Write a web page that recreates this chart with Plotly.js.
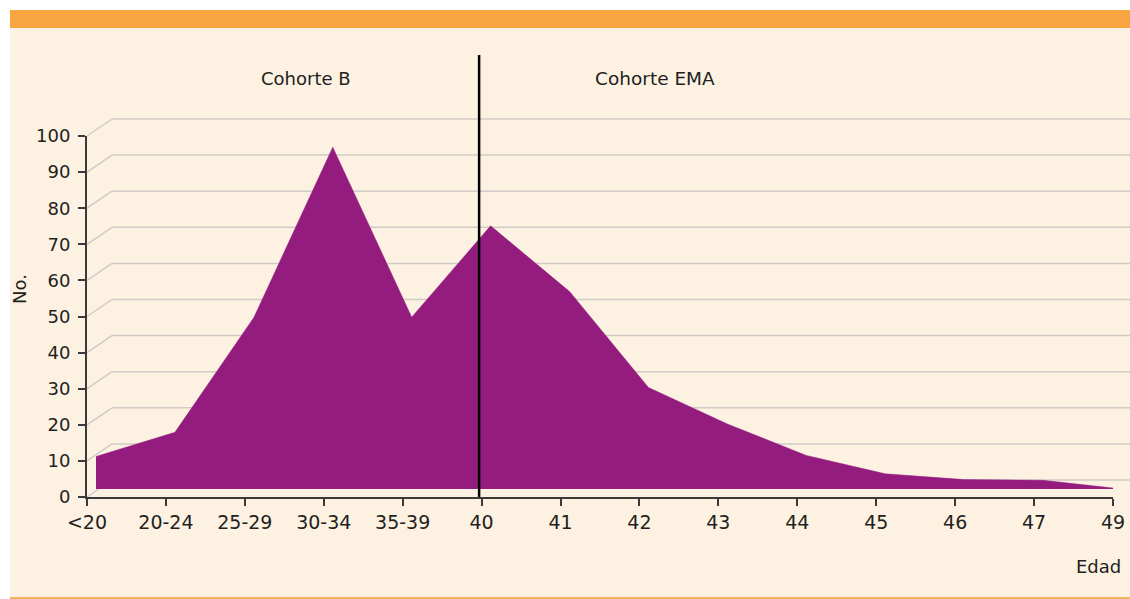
<!DOCTYPE html>
<html>
<head>
<meta charset="utf-8">
<script src="https://cdn.plot.ly/plotly-3.0.1.min.js"></script>
<style>
  html, body { margin: 0; padding: 0; background: #ffffff; }
  #wrap { position: relative; width: 1130px; height: 599px; overflow: hidden; background: #ffffff; }
  #band { position: absolute; left: 10px; top: 10px; width: 1120px; height: 18px; background: #f6a541; }
  #panel { position: absolute; left: 10px; top: 28px; width: 1120px; height: 569px; background: #fdf1e2; }
  #bottom { position: absolute; left: 10px; top: 597px; width: 1120px; height: 2px; background: #f6b45a; }
  #chart { position: absolute; left: 0; top: 0; width: 1130px; height: 599px; }
</style>
</head>
<body>
<div id="wrap">
  <div id="band"></div>
  <div id="panel"></div>
  <div id="bottom"></div>
  <div id="chart"></div>
</div>
<script>
// ---- data ----
var categories = ["<20", "20-24", "25-29", "30-34", "35-39", "40", "41", "42", "43", "44", "45", "46", "47", "49"];
var counts     = [9, 15.7, 47.5, 94.7, 47.6, 72.9, 54.7, 28.1, 18, 9.3, 4.2, 2.6, 2.4, 0];
var yTickVals  = [0, 10, 20, 30, 40, 50, 60, 70, 80, 90, 100];
var cohortLabels = ["Cohorte B", "Cohorte EMA"];
var dividerCategory = "40";

// ---- geometry helpers (pixel layout of the figure) ----
var W = 1130, H = 599;
var M = { l: 87, r: 17, t: 136, b: 102 };
var plotW = W - M.l - M.r, plotH = H - M.t - M.b;
function px2paperX(px) { return (px - M.l) / plotW; }
function px2paperY(py) { return (H - M.b - py) / plotH; }

var nCat = categories.length;
var unitPx = plotW / (nCat - 1);
var depthX = 9, depthY = 8;            // offset of the area (mid-depth plane)
var backX = 25, backY = 17;            // offset of the back wall

var textColor = "#231f20";
var font = "DejaVu Sans, sans-serif";

// gridlines as pseudo-3D (diagonal + back horizontal)
var shapes = [];
yTickVals.forEach(function (v) {
  var yp = v / 100;
  shapes.push({
    type: "line", layer: "below", xref: "paper", yref: "paper",
    xsizemode: "pixel", xanchor: 0, x0: 0, x1: backX,
    ysizemode: "pixel", yanchor: yp, y0: 0, y1: backY,
    line: { color: "#d0cbc6", width: 1.5 }
  });
  shapes.push({
    type: "line", layer: "below", xref: "paper", yref: "paper",
    xsizemode: "pixel", xanchor: 0, x0: backX, x1: W - M.l,
    ysizemode: "pixel", yanchor: yp, y0: backY, y1: backY,
    line: { color: "#d0cbc6", width: 1.5 }
  });
});
// divider line between cohorts
var divX = categories.indexOf(dividerCategory) / (nCat - 1);
shapes.push({
  type: "line", layer: "above", xref: "paper", yref: "paper",
  xsizemode: "pixel", xanchor: divX, x0: -2.5, x1: -2.5,
  y0: 0, y1: px2paperY(55),
  line: { color: "#000000", width: 2.5 }
});

// invisible trace that carries the front axes (x / y)
var axisCarrier = {
  type: "scatter", mode: "lines",
  x: categories, y: counts,
  xaxis: "x", yaxis: "y",
  line: { color: "rgba(0,0,0,0)", width: 0 },
  hoverinfo: "skip", showlegend: false
};

// the area, drawn on the mid-depth plane (x2 / y2)
var area = {
  type: "scatter", mode: "lines",
  x: categories, y: counts,
  xaxis: "x2", yaxis: "y2",
  fill: "tozeroy", fillcolor: "#931c7e",
  line: { color: "#931c7e", width: 0.5 },
  hoverinfo: "skip", showlegend: false
};

var layout = {
  width: W, height: H,
  margin: M,
  paper_bgcolor: "rgba(0,0,0,0)",
  plot_bgcolor: "rgba(0,0,0,0)",
  font: { family: font, color: textColor, size: 18 },
  showlegend: false,
  xaxis: {
    type: "category", range: [0, nCat - 1],
    tickmode: "array", tickvals: categories, ticktext: categories,
    showline: true, linecolor: "#3a3a3a", linewidth: 2,
    ticks: "outside", ticklen: 7, tickwidth: 2, tickcolor: "#3a3a3a",
    showgrid: false, zeroline: false,
    tickfont: { family: font, size: 19, color: textColor },
    fixedrange: true
  },
  yaxis: {
    range: [0, 100],
    tickmode: "array", tickvals: yTickVals,
    showline: true, linecolor: "#3a3a3a", linewidth: 2,
    ticks: "outside", ticklen: 7, tickwidth: 2, tickcolor: "#3a3a3a",
    showgrid: false, zeroline: false,
    ticklabelstandoff: 4,
    tickfont: { family: font, size: 18, color: textColor },
    fixedrange: true
  },
  xaxis2: {
    type: "category", overlaying: "x", anchor: "y2",
    range: [-depthX / unitPx, nCat - 1 - depthX / unitPx],
    visible: false, fixedrange: true
  },
  yaxis2: {
    overlaying: "y", anchor: "x2",
    range: [-depthY / (plotH / 100), 100 - depthY / (plotH / 100)],
    visible: false, fixedrange: true
  },
  shapes: shapes,
  annotations: [
    { text: cohortLabels[0], xref: "paper", yref: "paper", x: px2paperX(306), y: px2paperY(79),
      showarrow: false, xanchor: "center", yanchor: "middle", font: { size: 18, color: textColor } },
    { text: cohortLabels[1], xref: "paper", yref: "paper", x: px2paperX(655), y: px2paperY(79),
      showarrow: false, xanchor: "center", yanchor: "middle", font: { size: 18.5, color: textColor } },
    { text: "Edad", xref: "paper", yref: "paper", x: px2paperX(1123), y: px2paperY(566),
      showarrow: false, xanchor: "right", yanchor: "middle", font: { size: 18, color: textColor } },
    { text: "No.", xref: "paper", yref: "paper", x: px2paperX(19), y: px2paperY(289),
      showarrow: false, xanchor: "center", yanchor: "middle", textangle: -90,
      font: { size: 18, color: textColor } }
  ]
};

Plotly.newPlot("chart", [axisCarrier, area], layout, { displayModeBar: false, staticPlot: true });
</script>
</body>
</html>
